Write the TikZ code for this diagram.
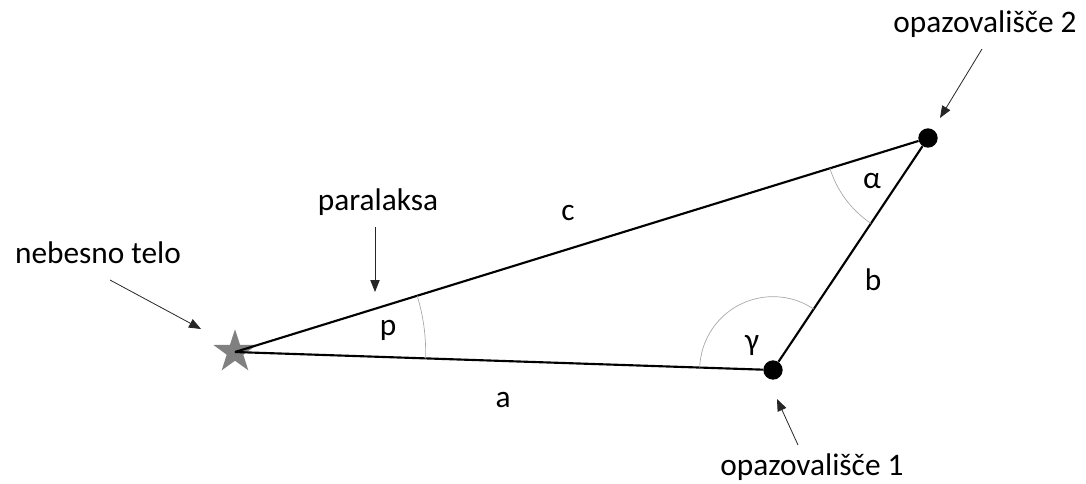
\documentclass[tikz,border=0pt]{standalone}
\usepackage{fontspec}
\setmainfont{Carlito}
\usetikzlibrary{arrows.meta,shapes.geometric,angles}
\tikzset{
  side/.style={line width=1.6pt,draw=black},
  dot/.style={circle,fill=black,inner sep=0pt,minimum size=14.5pt},
  body/.style={star,star points=5,star point ratio=2.6,fill=black!50,inner sep=0pt,minimum size=34pt},
  lbl/.style={font=\fontsize{23.5}{26}\selectfont,anchor=base,inner sep=0pt},
  pointer/.style={-{Triangle[length=9pt,width=7pt]},line width=0.6pt,draw=black!85},
  ang/.style={draw=black!35,line width=0.5pt}
}
\begin{document}
\begin{tikzpicture}[x=0.75pt,y=-0.75pt]
\useasboundingbox (0,0) rectangle (1086,483);
% tocke trikotnika
\node[body] (s) at (235,352) {};
\node[dot] (o1) at (773,370) {};
\node[dot] (o2) at (928,138) {};
% stranice
\draw[side] (s.center) -- (o1);
\draw[side] (s.center) -- (o2);
\draw[side] (o1) -- (o2);
% koti
\pic[ang,angle radius=143pt] {angle=o1--s--o2};
\pic[ang,angle radius=55pt] {angle=o2--o1--s};
\pic[ang,angle radius=77pt] {angle=s--o2--o1};
% oznake
\node[lbl] (lc) at (568,220) {c};
\node[lbl] (lb) at (873,290) {b};
\node[lbl] (la) at (503,407) {a};
\node[lbl] (lp) at (388,335) {p};
\node[lbl,anchor=center] (lg) at (752,345) {γ};
\node[lbl] (lal) at (872,188) {α};
% opisi
\node[lbl] (par) at (378,210) {paralaksa};
\node[lbl] (neb) at (98,263) {nebesno telo};
\node[lbl] (op2) at (985,32) {opazovališče 2};
\node[lbl] (op1) at (812,475) {opazovališče 1};
% puscice
\coordinate (parA) at (375,227);
\coordinate (parB) at (375,292);
\coordinate (nebA) at (110,280);
\coordinate (nebB) at (201,329);
\coordinate (op2A) at (982,49);
\coordinate (op2B) at (940,118);
\coordinate (op1A) at (798,445);
\coordinate (op1B) at (777,399);
\draw[pointer] (parA) -- (parB);
\draw[pointer] (nebA) -- (nebB);
\draw[pointer] (op2A) -- (op2B);
\draw[pointer] (op1A) -- (op1B);
\end{tikzpicture}
\end{document}
